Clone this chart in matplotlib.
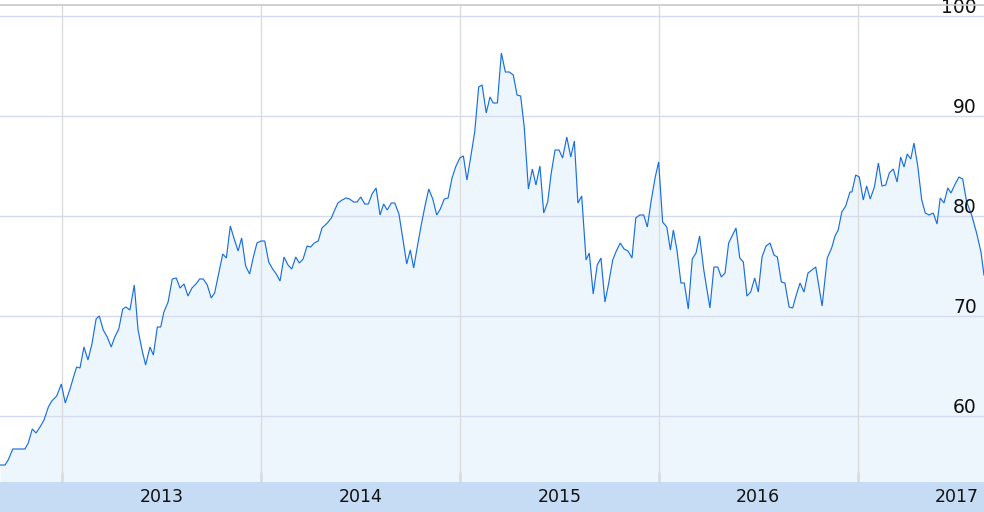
import matplotlib
matplotlib.use("Agg")
import matplotlib.pyplot as plt
from matplotlib.lines import Line2D
import matplotlib.transforms as mtransforms

# Time in decimal years (weekly closes)
t = [
    2012.687, 2012.712, 2012.728, 2012.751, 2012.812, 2012.829, 2012.849, 2012.868,
    2012.888, 2012.908, 2012.930, 2012.947, 2012.972, 2012.995, 2013.015, 2013.039,
    2013.055, 2013.072, 2013.089, 2013.109, 2013.129, 2013.149, 2013.170, 2013.186,
    2013.206, 2013.226, 2013.246, 2013.264, 2013.284, 2013.304, 2013.320, 2013.340,
    2013.362, 2013.381, 2013.401, 2013.419, 2013.441, 2013.458, 2013.478, 2013.495,
    2013.511, 2013.532, 2013.553, 2013.573, 2013.592, 2013.612, 2013.632, 2013.652,
    2013.672, 2013.691, 2013.709, 2013.729, 2013.749, 2013.766, 2013.787, 2013.807,
    2013.825, 2013.845, 2013.863, 2013.884, 2013.902, 2013.922, 2013.942, 2013.961,
    2013.979, 2013.999, 2014.018, 2014.038, 2014.058, 2014.076, 2014.095, 2014.115,
    2014.135, 2014.154, 2014.174, 2014.192, 2014.211, 2014.231, 2014.249, 2014.267,
    2014.287, 2014.306, 2014.333, 2014.353, 2014.370, 2014.386, 2014.407, 2014.428,
    2014.445, 2014.465, 2014.482, 2014.501, 2014.521, 2014.539, 2014.558, 2014.578,
    2014.598, 2014.616, 2014.634, 2014.655, 2014.672, 2014.693, 2014.712, 2014.732,
    2014.750, 2014.767, 2014.787, 2014.805, 2014.824, 2014.843, 2014.863, 2014.883,
    2014.901, 2014.921, 2014.940, 2014.960, 2014.978, 2014.999, 2015.017, 2015.035,
    2015.054, 2015.074, 2015.094, 2015.111, 2015.132, 2015.151, 2015.167, 2015.188,
    2015.208, 2015.228, 2015.248, 2015.268, 2015.287, 2015.305, 2015.323, 2015.344,
    2015.364, 2015.382, 2015.402, 2015.421, 2015.441, 2015.459, 2015.478, 2015.498,
    2015.516, 2015.537, 2015.557, 2015.575, 2015.593, 2015.612, 2015.634, 2015.650,
    2015.670, 2015.690, 2015.709, 2015.729, 2015.748, 2015.768, 2015.786, 2015.806,
    2015.825, 2015.845, 2015.865, 2015.884, 2015.904, 2015.924, 2015.942, 2015.962,
    2015.982, 2015.999, 2016.019, 2016.040, 2016.058, 2016.073, 2016.091, 2016.111,
    2016.128, 2016.148, 2016.168, 2016.187, 2016.205, 2016.226, 2016.257, 2016.277,
    2016.296, 2016.314, 2016.333, 2016.351, 2016.371, 2016.388, 2016.407, 2016.425,
    2016.443, 2016.462, 2016.482, 2016.500, 2016.519, 2016.539, 2016.559, 2016.579,
    2016.596, 2016.616, 2016.634, 2016.655, 2016.673, 2016.691, 2016.710, 2016.730,
    2016.750, 2016.770, 2016.789, 2016.821, 2016.847, 2016.869, 2016.886, 2016.902,
    2016.920, 2016.940, 2016.961, 2016.971, 2016.990, 2017.008, 2017.028, 2017.045,
    2017.063, 2017.084, 2017.104, 2017.122, 2017.141, 2017.159, 2017.179, 2017.198,
    2017.216, 2017.233, 2017.249, 2017.267, 2017.283, 2017.302, 2017.322, 2017.340,
    2017.359, 2017.380, 2017.399, 2017.415, 2017.434, 2017.453, 2017.469, 2017.488,
    2017.509, 2017.528, 2017.548, 2017.573, 2017.598, 2017.620, 2017.635,
]

price = [
    55.1, 55.1, 55.6, 56.7, 56.7, 57.3, 58.7, 58.3,
    58.9, 59.6, 60.9, 61.5, 62.0, 63.2, 61.3, 62.7,
    63.8, 64.9, 64.8, 66.9, 65.6, 67.2, 69.7, 70.0,
    68.6, 67.9, 66.9, 67.9, 68.7, 70.7, 70.9, 70.6,
    73.1, 68.6, 66.6, 65.1, 66.9, 66.1, 68.9, 68.9,
    70.4, 71.4, 73.7, 73.8, 72.8, 73.2, 72.0, 72.8,
    73.2, 73.7, 73.7, 73.1, 71.8, 72.3, 74.3, 76.2,
    75.8, 79.0, 77.8, 76.5, 77.8, 75.0, 74.2, 75.9,
    77.3, 77.5, 77.5, 75.4, 74.7, 74.2, 73.5, 75.9,
    75.1, 74.7, 75.9, 75.3, 75.7, 77.0, 76.9, 77.3,
    77.5, 78.8, 79.3, 79.8, 80.6, 81.3, 81.6, 81.8,
    81.7, 81.4, 81.4, 81.9, 81.2, 81.2, 82.2, 82.8,
    80.1, 81.2, 80.6, 81.3, 81.3, 80.2, 77.8, 75.2,
    76.6, 74.8, 77.1, 79.1, 81.0, 82.7, 81.7, 80.1,
    80.7, 81.7, 81.8, 83.8, 84.9, 85.8, 86.0, 83.6,
    85.9, 88.4, 92.9, 93.1, 90.3, 91.9, 91.3, 91.3,
    96.3, 94.4, 94.4, 94.1, 92.1, 92.0, 88.9, 82.7,
    84.7, 83.1, 85.0, 80.3, 81.4, 84.3, 86.6, 86.6,
    85.8, 87.9, 85.9, 87.5, 81.3, 82.0, 75.6, 76.3,
    72.2, 75.1, 75.8, 71.4, 73.3, 75.6, 76.5, 77.3,
    76.7, 76.5, 75.8, 79.8, 80.1, 80.1, 78.9, 81.6,
    83.9, 85.4, 79.4, 78.9, 76.6, 78.6, 76.6, 73.3,
    73.3, 70.7, 75.7, 76.3, 78.0, 74.6, 70.8, 74.9,
    74.9, 73.9, 74.3, 77.3, 78.1, 78.8, 75.8, 75.4,
    72.0, 72.4, 73.8, 72.4, 75.9, 77.0, 77.3, 76.1,
    75.9, 73.4, 73.3, 70.9, 70.8, 72.1, 73.3, 72.4,
    74.3, 74.6, 74.9, 71.0, 75.8, 76.8, 78.0, 78.6,
    80.4, 81.0, 82.4, 82.4, 84.1, 83.9, 81.6, 83.0,
    81.7, 82.9, 85.3, 83.0, 83.1, 84.3, 84.7, 83.4,
    85.9, 84.9, 86.2, 85.7, 87.3, 85.0, 81.6, 80.3,
    80.1, 80.3, 79.2, 81.8, 81.3, 82.8, 82.3, 83.1,
    83.9, 83.7, 81.4, 80.1, 78.3, 76.4, 74.1,
]

years = [2013, 2014, 2015, 2016, 2017]
year_labels = ["2013", "2014", "2015", "2016", "2017"]
y_ticks = [60, 70, 80, 90, 100]
y_labels = ["60", "70", "80", "90", "100"]

W, H = 984, 512
fig = plt.figure(figsize=(W / 100, H / 100), dpi=100)
fig.patch.set_facecolor("white")

band_h = 30
top_pad = 5
ax = fig.add_axes([0, band_h / H, 1, (H - band_h - top_pad) / H])
ax.set_facecolor("white")
ax.set_xlim(2012.6867, 2017.6352)
ax.set_ylim(53.4, 101.1)

line_color = "#1a6fdf"
fill_color = "#edf6fd"

ax.fill_between(t, price, 53.4, color=fill_color, lw=0, zorder=1)

# grid lines
for yv in y_ticks:
    ax.axhline(yv, color="#d6daf0", lw=1.0, zorder=2)
for xv in years:
    ax.axvline(xv, color="#dcdcdc", lw=1.0, zorder=2)

ax.plot(t, price, color=line_color, lw=0.85, zorder=3, solid_joinstyle="miter")

# bottom tick marks
ax.set_xticks(years)
ax.set_yticks([])
ax.tick_params(axis="x", direction="in", length=7.2, width=1.0, color="#8a8a8a",
               labelbottom=False, bottom=True, top=False)
for s in ax.spines.values():
    s.set_visible(False)

# y labels (right side, above gridlines)
trans = mtransforms.blended_transform_factory(ax.transAxes, ax.transData)
for yv, lab in zip(y_ticks, y_labels):
    ax.text(977 / W, yv + 0.3, lab, transform=trans, ha="right", va="baseline",
            fontsize=13.5, color="#111111", family="DejaVu Sans", zorder=5,
            clip_on=False)

# bottom band with year labels
bax = fig.add_axes([0, 0, 1, band_h / H])
bax.set_facecolor("#c6dcf5")
bax.set_xlim(ax.get_xlim())
bax.set_ylim(0, 1)
bax.set_xticks([])
bax.set_yticks([])
for s in bax.spines.values():
    s.set_visible(False)
for yr, lab in zip(years, year_labels):
    bax.text(yr + 0.5, 10 / band_h, lab, ha="center", va="baseline",
             fontsize=12.5, color="#111111", family="DejaVu Sans")

# thin grey line at the very top
fig.add_artist(Line2D([0, 1], [1 - 4.5 / H, 1 - 4.5 / H], transform=fig.transFigure,
                      color="#c8c8c8", lw=1.2, zorder=10))

fig.savefig("out.png", dpi=100, facecolor="white")
